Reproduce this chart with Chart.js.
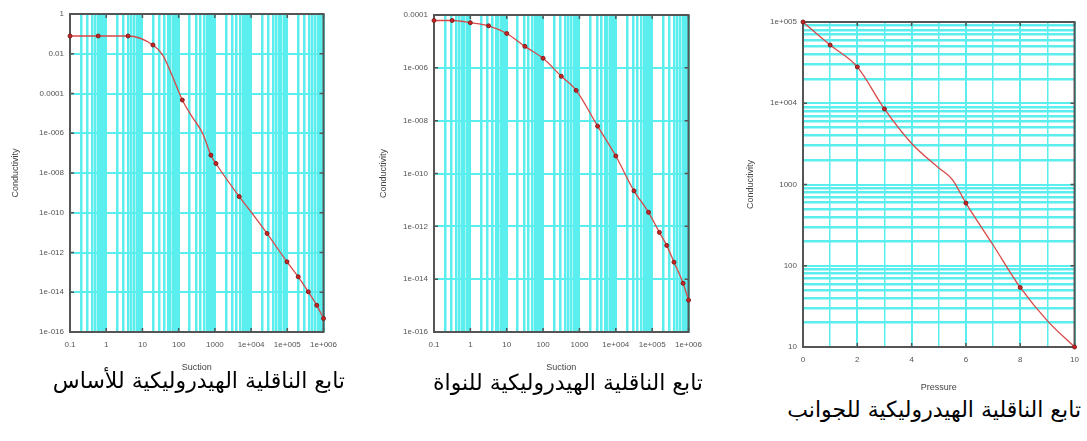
<!DOCTYPE html>
<html>
<head>
<meta charset="utf-8">
<script src="https://cdn.jsdelivr.net/npm/chart.js@4.4.1/dist/chart.umd.min.js"></script>
<style>
    body { margin: 0; background: #fff; width: 1087px; height: 441px; overflow: hidden; position: relative; }
    canvas { position: absolute; top: 0; }
    .caption { position: absolute; font-family: 'DejaVu Sans', sans-serif; font-size: 22px; color: #000; white-space: nowrap; direction: rtl; }
</style>
</head>
<body>
<canvas id="baseChart" width="345" height="377" style="left:0"></canvas>
<canvas id="coreChart" width="340" height="377" style="left:370px"></canvas>
<canvas id="sideChart" width="352" height="397" style="left:735px"></canvas>
<div class="caption" id="cap1" style="right:742px; top:368px;"></div>
<div class="caption" id="cap2" style="right:384px; top:370px;"></div>
<div class="caption" id="cap3" style="right:6px; top:397px;"></div>

<script>
// Captions
const captions = [
    'تابع الناقلية الهيدروليكية للأساس',
    'تابع الناقلية الهيدروليكية للنواة',
    'تابع الناقلية الهيدروليكية للجوانب'
];

// Suction axis (charts 1 & 2)
const suctionTicks = [0.1, 1, 10, 100, 1000, 1e4, 1e5, 1e6];
const suctionLabels = ['0.1', '1', '10', '100', '1000', '1e+004', '1e+005', '1e+006'];

// Chart 1 - base
const baseYTicks = [1, 1e-2, 1e-4, 1e-6, 1e-8, 1e-10, 1e-12, 1e-14, 1e-16];
const baseYLabels = ['1', '0.01', '0.0001', '1e-006', '1e-008', '1e-010', '1e-012', '1e-014', '1e-016'];
const baseSuction = [0.1, 0.6, 4, 19.5, 36, 68, 126, 234, 457, 776, 1070, 4700, 10700, 27500, 97700, 2e5, 3.8e5, 6.5e5, 1e6];
const baseCond = [0.078, 0.078, 0.078, 0.0275, 0.0087, 7e-4, 4.7e-5, 6.8e-6, 1e-6, 7.9e-8, 3e-8, 6.5e-10, 9.3e-11, 9.1e-12, 3.4e-13, 6e-14, 1.05e-14, 2.2e-15, 4.8e-16];
const baseMarked = [0, 1, 2, 3, 6, 9, 10, 11, 13, 14, 15, 16, 17, 18];

// Chart 2 - core
const coreYTicks = [1e-4, 1e-6, 1e-8, 1e-10, 1e-12, 1e-14, 1e-16];
const coreYLabels = ['0.0001', '1e-006', '1e-008', '1e-010', '1e-012', '1e-014', '1e-016'];
const coreSuction = [0.1, 0.316, 1, 3.16, 10, 31.6, 100, 316, 813, 3160, 1e4, 31600, 79400, 158000, 251000, 398000, 708000, 1e6];
const coreCond = [6.2e-5, 6.2e-5, 5.1e-5, 3.9e-5, 2.0e-5, 6.5e-6, 2.3e-6, 4.8e-7, 1.4e-7, 6.2e-9, 4.6e-10, 2.2e-11, 3.4e-12, 5.9e-13, 1.9e-13, 4.4e-14, 7e-15, 1.6e-15];

// Chart 3 - sides
const pressureTicks = [0, 2, 4, 6, 8, 10];
const pressureLabels = ['0', '2', '4', '6', '8', '10'];
const sideYTicks = [10, 100, 1000, 1e4, 1e5];
const sideYLabels = ['10', '100', '1000', '1e+004', '1e+005'];
const sidePressure = [0, 1, 2, 3, 4, 5, 5.5, 6, 7, 8, 9, 10];
const sideCond = [1e5, 52000, 28000, 8500, 3200, 1600, 1150, 590, 180, 54, 21, 10];
const sideMarked = [0, 1, 2, 3, 7, 9, 11];

const CYAN = 'rgb(90,238,238)';
const FRAME = '#555';
const FONT = 'Liberation Sans';

// log ticks: decades with minor lines 2..9
function logTicks(majors, withMinor) {
    const out = [];
    majors.forEach((m, i) => {
        out.push({ value: m, major: true });
        if (withMinor && i < majors.length - 1) {
            const step = majors[i + 1] / m;
            if (Math.abs(step - 10) < 1e-9) {
                for (let k = 2; k <= 9; k++) out.push({ value: m * k, major: false });
            }
        }
    });
    return out;
}

function labelFor(majors, labels) {
    return (value, index, ticks) => {
        if (!ticks[index].major) return '';
        const i = majors.indexOf(ticks[index].value);
        return i >= 0 ? labels[i] : '';
    };
}

const framePlugin = {
    id: 'frame',
    beforeDatasetsDraw(chart) {
        const { ctx, chartArea: a, scales } = chart;
        ctx.save();
        ctx.strokeStyle = FRAME;
        ctx.lineWidth = 2;
        ctx.strokeRect(a.left, a.top, a.right - a.left, a.bottom - a.top);
        ctx.lineWidth = 1.5;
        const tl = 4;
        ctx.beginPath();
        scales.x.ticks.forEach(t => {
            if (!t.major) return;
            const px = scales.x.getPixelForValue(t.value);
            ctx.moveTo(px, a.bottom); ctx.lineTo(px, a.bottom - tl);
            ctx.moveTo(px, a.top); ctx.lineTo(px, a.top + tl);
        });
        scales.y.ticks.forEach(t => {
            if (!t.major) return;
            const py = scales.y.getPixelForValue(t.value);
            ctx.moveTo(a.left, py); ctx.lineTo(a.left + tl, py);
            ctx.moveTo(a.right, py); ctx.lineTo(a.right - tl, py);
        });
        ctx.stroke();
        ctx.restore();
    }
};

function makeChart(id, opts) {
    const ctx = document.getElementById(id).getContext('2d');
    return new Chart(ctx, {
        type: 'line',
        data: {
            labels: opts.xData,
            datasets: [{
                data: opts.xData.map((x, i) => ({ x: x, y: opts.yData[i] })),
                borderColor: '#d84848',
                borderWidth: 1.3,
                cubicInterpolationMode: 'monotone',
                pointRadius: (c) => (opts.marked && !opts.marked.includes(c.dataIndex)) ? 0 : 2,
                pointBackgroundColor: '#d02020',
                pointBorderColor: '#7a2020',
                pointBorderWidth: 1,
                clip: false
            }]
        },
        options: {
            responsive: false,
            animation: false,
            layout: { padding: opts.padding },
            plugins: { legend: { display: false }, tooltip: { enabled: false } },
            scales: {
                x: {
                    type: opts.xType,
                    min: opts.xMin, max: opts.xMax,
                    afterBuildTicks: (s) => { s.ticks = opts.xTicks; },
                    afterFit: (s) => { s.height = opts.xHeight; },
                    grid: {
                        color: CYAN,
                        lineWidth: (c) => c.tick && c.tick.major ? 2 : opts.xMinorWidth,
                        drawTicks: false
                    },
                    border: { display: false },
                    ticks: {
                        autoSkip: false, maxRotation: 0, padding: 8,
                        color: '#555', font: { family: FONT, size: 8 },
                        callback: labelFor(opts.xMajors, opts.xLabels)
                    },
                    title: { display: true, text: opts.xTitle, color: '#444', font: { family: FONT, size: 9 }, padding: { top: 2, bottom: 4 } }
                },
                y: {
                    type: 'logarithmic',
                    min: opts.yMin, max: opts.yMax,
                    afterBuildTicks: (s) => { s.ticks = opts.yTicks; },
                    afterFit: (s) => { s.width = opts.yWidth; },
                    grid: {
                        color: CYAN,
                        lineWidth: (c) => c.tick && c.tick.major ? 2 : 2.5,
                        drawTicks: false
                    },
                    border: { display: false },
                    ticks: {
                        autoSkip: false, padding: 6,
                        color: '#555', font: { family: FONT, size: 8 },
                        callback: labelFor(opts.yMajors, opts.yLabels)
                    },
                    title: { display: true, text: 'Conductivity', color: '#444', font: { family: FONT, size: 9 }, padding: { top: 4, bottom: 2 } }
                }
            }
        },
        plugins: [framePlugin]
    });
}

makeChart('baseChart', {
    xData: baseSuction, yData: baseCond, marked: baseMarked,
    xType: 'logarithmic', xMin: 0.1, xMax: 1e6,
    xTicks: logTicks(suctionTicks, true), xMajors: suctionTicks, xLabels: suctionLabels, xMinorWidth: 2.5,
    yMin: 1e-16, yMax: 1,
    yTicks: logTicks(baseYTicks, false), yMajors: baseYTicks, yLabels: baseYLabels,
    xTitle: 'Suction', xHeight: 45, yWidth: 64,
    padding: { left: 6, top: 14, right: 20, bottom: 0 }
});

makeChart('coreChart', {
    xData: coreSuction, yData: coreCond,
    xType: 'logarithmic', xMin: 0.1, xMax: 1e6,
    xTicks: logTicks(suctionTicks, true), xMajors: suctionTicks, xLabels: suctionLabels, xMinorWidth: 2.5,
    yMin: 1e-16, yMax: 1e-4,
    yTicks: logTicks(coreYTicks, false), yMajors: coreYTicks, yLabels: coreYLabels,
    xTitle: 'Suction', xHeight: 45, yWidth: 60,
    padding: { left: 4, top: 15, right: 18, bottom: 0 }
});

// pressure: a line every unit, labels on even values
const pressureGrid = [];
for (let p = 0; p <= 10; p++) pressureGrid.push({ value: p, major: pressureTicks.includes(p) });

makeChart('sideChart', {
    xData: sidePressure, yData: sideCond, marked: sideMarked,
    xType: 'linear', xMin: 0, xMax: 10,
    xTicks: pressureGrid, xMajors: pressureTicks, xLabels: pressureLabels, xMinorWidth: 1.5,
    yMin: 10, yMax: 1e5,
    yTicks: logTicks(sideYTicks, true), yMajors: sideYTicks, yLabels: sideYLabels,
    xTitle: 'Pressure', xHeight: 50, yWidth: 62,
    padding: { left: 6, top: 22, right: 12, bottom: 0 }
});

['cap1', 'cap2', 'cap3'].forEach((id, i) => {
    document.getElementById(id).textContent = captions[i];
});
</script>
</body>
</html>
